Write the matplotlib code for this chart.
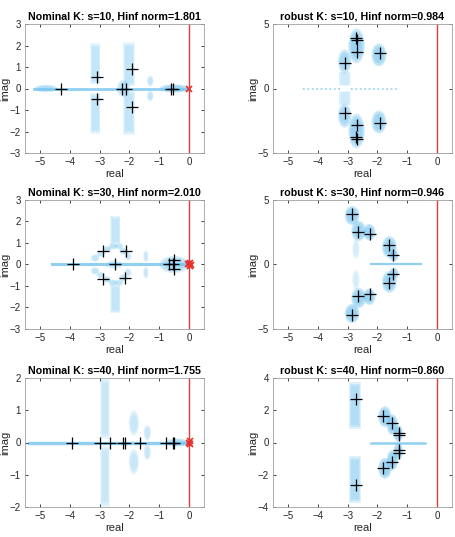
import numpy as np
import matplotlib.pyplot as plt
from matplotlib.patches import Ellipse, Rectangle

plt.rcParams['font.family'] = ['Liberation Sans', 'DejaVu Sans']

titles = ['Nominal K: s=10, Hinf norm=1.801', 'robust K: s=10, Hinf norm=0.984',
          'Nominal K: s=30, Hinf norm=2.010', 'robust K: s=30, Hinf norm=0.946',
          'Nominal K: s=40, Hinf norm=1.755', 'robust K: s=40, Hinf norm=0.860']
ylims = [(-3, 3), (-5, 5), (-3, 3), (-5, 5), (-2, 2), (-4, 4)]
yticks = [[-3, -2, -1, 0, 1, 2, 3], [-5, 0, 5], [-3, -2, -1, 0, 1, 2, 3],
          [-5, 0, 5], [-2, -1, 0, 1, 2], [-4, -2, 0, 2, 4]]
xticks = [-5, -4, -3, -2, -1, 0]

# nominal closed-loop poles (black +)
poles_re = [
    [-4.3, -3.1, -3.1, -2.26, -2.11, -1.92, -1.92, -0.6, -0.55],
    [-2.72, -2.68, -2.67, -3.07, -1.91, -3.07, -2.67, -2.72, -2.68, -1.91],
    [-3.9, -2.87, -2.87, -2.47, -2.13, -2.15, -0.68, -0.54, -0.49, -0.49],
    [-2.84, -2.66, -2.25, -1.61, -1.47, -1.47, -1.61, -2.25, -2.66, -2.84],
    [-3.91, -2.97, -2.64, -2.21, -2.16, -1.63, -0.79, -0.55, -0.51],
    [-2.72, -1.8, -1.52, -1.27, -1.27, -1.27, -1.27, -1.52, -1.8, -2.72],
]
poles_im = [
    [0, 0.52, -0.47, 0, 0, 0.9, -0.85, 0, 0],
    [3.94, 3.76, 2.85, 2.0, 2.72, -1.89, -2.8, -3.76, -3.92, -2.67],
    [0, 0.65, -0.66, 0, 0.62, -0.63, 0, 0, 0.22, -0.2],
    [3.95, 2.52, 2.34, 1.48, 0.73, -0.73, -1.43, -2.26, -2.47, -3.95],
    [0, 0, 0, 0, 0, 0, 0, 0, 0],
    [2.72, 1.62, 1.23, 0.61, 0.49, -0.49, -0.63, -1.23, -1.58, -2.62],
]

# unstable / boundary poles (red x)
red_re = [[0.0], [], [0.0, 0.03, 0.03, -0.02, 0.05], [], [0.0, 0.02, 0.02], []]
red_im = [[0.0], [], [0.0, 0.08, -0.08, 0.04, -0.03], [], [0.0, 0.04, -0.04], []]

# uncertain-pole spread on the real axis: (start, end, linewidth, style)
axis_spread = [
    [(-5.2, 0.0, 2.0, '-')],
    [(-4.5, -3.2, 1.2, ':'), (-2.87, -1.35, 1.2, ':')],
    [(-4.6, 0.0, 2.2, '-')],
    [(-2.2, -0.55, 1.6, '-')],
    [(-5.35, 0.0, 2.4, '-')],
    [(-2.2, -0.4, 1.8, '-')],
]

# uncertain-pole clouds, upper half plane (mirrored below when im != 0)
# ellipses: (re, im, width, height, density)
blobs = [
    [(-4.8, 0, 0.8, 0.35, 0.55), (-2.2, 0, 0.45, 0.8, 0.45),
     (-1.3, 0.35, 0.22, 0.5, 0.4), (-0.5, 0, 1.0, 0.4, 0.7)],
    [(-2.7, 3.3, 0.55, 2.7, 0.8), (-3.1, 2.1, 0.45, 1.9, 0.65),
     (-1.95, 2.6, 0.5, 1.8, 0.75)],
    [(-3.15, 0.3, 0.3, 0.35, 0.4), (-2.95, 0.5, 0.3, 0.3, 0.4),
     (-2.75, 0.7, 0.3, 0.3, 0.45), (-2.55, 0.85, 0.3, 0.3, 0.45),
     (-2.35, 0.85, 0.3, 0.3, 0.4), (-2.2, 0.62, 0.3, 0.35, 0.4),
     (-2.05, 0.38, 0.25, 0.4, 0.35), (-1.45, 0.38, 0.18, 0.55, 0.35),
     (-2.5, 0, 0.6, 0.4, 0.35), (-0.5, 0, 1.0, 0.8, 0.6)],
    [(-2.85, 3.8, 0.5, 1.5, 0.8), (-2.63, 2.6, 0.5, 1.6, 0.75),
     (-2.27, 2.5, 0.42, 1.3, 0.75), (-2.72, 1.2, 0.25, 1.6, 0.25),
     (-1.6, 1.35, 0.5, 1.7, 0.8), (-1.45, 0.7, 0.32, 0.95, 0.7)],
    [(-1.85, 0.6, 0.35, 0.8, 0.35), (-1.4, 0.3, 0.25, 0.5, 0.35),
     (-0.4, 0, 0.8, 0.25, 0.6)],
    [(-1.75, 1.6, 0.45, 1.3, 0.8), (-1.5, 1.1, 0.38, 1.3, 0.8),
     (-1.3, 0.55, 0.32, 1.05, 0.8)],
]
# vertical bands: (re_lo, re_hi, im_lo, im_hi, density)
bands = [
    [(-3.32, -2.97, 0.2, 2.1, 0.4), (-2.2, -1.82, 0.1, 2.15, 0.4)],
    [(-3.3, -2.9, 0.2, 1.3, 0.3)],
    [(-2.65, -2.3, 0.95, 2.25, 0.4)],
    [],
    [(-2.97, -2.65, 0.1, 2.0, 0.35)],
    [(-2.95, -2.55, 0.85, 3.75, 0.55)],
]

cloud_color = '#74c4ef'
layers = [1.0, 0.86, 0.66]   # soft edge of each cloud

fig = plt.figure(figsize=(4.56, 5.37), dpi=100)
lefts = [25 / 456, 273 / 456]
bottoms = [1 - 153 / 537, 1 - 329 / 537, 1 - 507 / 537]
w, h = 179 / 456, 129 / 537

for i in range(6):
    ax = fig.add_axes([lefts[i % 2], bottoms[i // 2], w, h])

    for x0, x1, lw, ls in axis_spread[i]:
        ax.plot([x0, x1], [0, 0], color=cloud_color, lw=lw, ls=ls, alpha=0.8, zorder=1)

    for re, im, cw, ch, a in blobs[i]:
        for s in ([1, -1] if im != 0 else [1]):
            for k in layers:
                ax.add_patch(Ellipse((re, s * im), cw * k, ch * k, facecolor=cloud_color,
                                     edgecolor='none', alpha=a * 0.42, zorder=1))
    for r0, r1, i0, i1, a in bands[i]:
        for s in [1, -1]:
            for k in layers:
                dw = (r1 - r0) * (1 - k) / 2
                dh = (i1 - i0) * (1 - k) / 4
                lo, hi = sorted([s * i0, s * i1])
                ax.add_patch(Rectangle((r0 + dw, lo + dh), r1 - r0 - 2 * dw,
                                       hi - lo - 2 * dh, facecolor=cloud_color,
                                       edgecolor='none', alpha=a * 0.42, zorder=1))

    ax.axvline(0, color='#e03a3a', lw=1.0, zorder=2)
    if red_re[i]:
        ax.plot(red_re[i], red_im[i], 'x', color='#e8302c', ms=5, mew=1.2, zorder=3)
    ax.plot(poles_re[i], poles_im[i], '+', color='k', ms=8, mew=0.9, zorder=4)

    ax.set_xlim(-5.5, 0.5)
    ax.set_ylim(*ylims[i])
    ax.set_xticks(xticks)
    ax.set_yticks(yticks[i])
    ax.tick_params(direction='in', top=True, right=True, length=2.5, width=0.6,
                   labelsize=7, colors='#262626', pad=3)
    for sp in ax.spines.values():
        sp.set_color('#a0a0a0')
        sp.set_linewidth(0.6)
    ax.set_title(titles[i], fontsize=7.7, fontweight='bold', pad=3)
    ax.set_xlabel('real', fontsize=8, labelpad=1, color='#262626')
    ax.set_ylabel('imag', fontsize=8, color='#262626')
    ax.yaxis.set_label_coords(-0.085, 0.5)

fig.savefig('out.png', dpi=100)
